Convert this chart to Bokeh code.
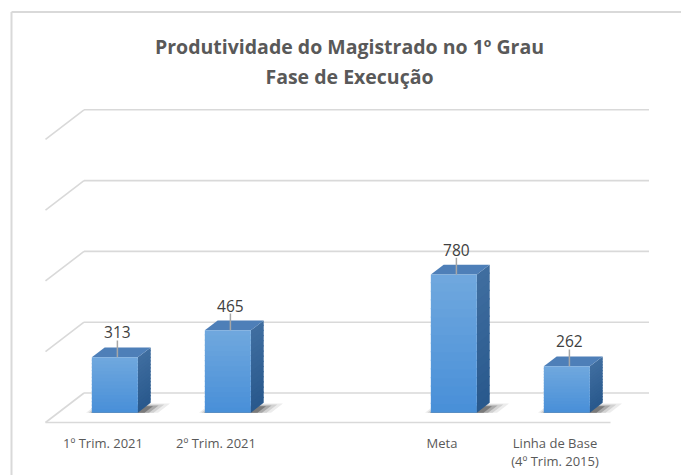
from bokeh.plotting import figure
from bokeh.models import Range1d, Label
from bokeh.core.properties import value
from bokeh.embed import file_html
from bokeh.resources import INLINE

# ---------------- data ----------------
categories = ["1º Trim. 2021", "2º Trim. 2021", "", "Meta", "Linha de Base\n(4º Trim. 2015)"]
values = [313, 465, None, 780, 262]
grid_values = [0, 400, 800, 1200, 1600]
title_lines = ["Produtividade do Magistrado no 1º Grau", "Fase de Execução"]

# ---------------- geometry (pixel <-> data) ----------------
W, H = 681, 475
OFF = 0           # page offset of the canvas
K = 5.65          # value units per pixel
CAT = 113.0       # pixels per category
X0 = 101.5        # page x of category 0 at front of floor
Y0 = 422.0        # page y of value 0 at front of floor
DX = 38.5 / CAT   # full depth offset (x, in category units)
DY = 29.5 * K     # full depth offset (y, in value units)
BW = 46.0 / CAT   # bar width
D0, D1 = 1 / 3, 2 / 3  # bar depth slice


def px_x(page_x):
    return (page_x - X0) / CAT


def px_y(page_y):
    return (Y0 - page_y) * K


def P(x, v, d):
    return x + d * DX, v + d * DY


p = figure(width=W, height=H, output_backend="svg", toolbar_location=None,
           x_range=Range1d(px_x(OFF), px_x(OFF + W)),
           y_range=Range1d(px_y(OFF + H), px_y(OFF)),
           min_border=0, min_border_left=0, min_border_right=0,
           min_border_top=0, min_border_bottom=0)
p.axis.visible = False
p.grid.visible = False
p.outline_line_color = None
p.background_fill_color = "white"
p.border_fill_color = "white"

GRID_C = "#d9d9d9"
x_lo, x_hi = -0.5, len(categories) - 0.5

# chart border (top and left visible)
p.line([px_x(11), px_x(700)], [px_y(11.5), px_y(11.5)], line_color=GRID_C, line_width=2)
p.line([px_x(11), px_x(11)], [px_y(11.5), px_y(490)], line_color=GRID_C, line_width=2)

# back-wall gridlines and side-wall diagonals
for g in grid_values:
    bx0, by = P(x_lo, g, 1)
    bx1, _ = P(x_hi, g, 1)
    p.line([bx0, bx1], [by, by], line_color=GRID_C, line_width=1.6)
    fx, fy = P(x_lo, g, 0)
    p.line([fx, bx0], [fy, by], line_color=GRID_C, line_width=1.6)
# floor front edge
fx0, fy0 = P(x_lo, 0, 0)
fx1, _ = P(x_hi, 0, 0)
p.line([fx0, fx1], [fy0, fy0], line_color=GRID_C, line_width=1.6)


def lerp(c0, c1, t):
    return "#%02x%02x%02x" % tuple(int(round(a + (b - a) * t)) for a, b in zip(c0, c1))


FRONT_BOT, FRONT_TOP = (72, 143, 216), (112, 168, 222)
SIDE_BOT, SIDE_TOP = (40, 88, 140), (64, 110, 160)
TOP_C = "#4e7fb8"
N = 16

# shadows (soft, around each bar's base)
sh_xs, sh_ys, sh_col = [], [], []
for i, v in enumerate(values):
    if v is None:
        continue
    xl, xr = i - BW / 2, i + BW / 2
    for (ex_l, ex_r, da, db, c) in [(0.05, 0.18, 0.33, 0.64, "#ececec"),
                                    (0.03, 0.14, 0.33, 0.61, "#d2d2d2"),
                                    (0.01, 0.10, 0.33, 0.58, "#a9a9a9"),
                                    (0.00, 0.06, 0.33, 0.55, "#7a7a7a")]:
        pts = [P(xl - ex_l, 0, da), P(xr + ex_r, 0, da), P(xr + ex_r, 0, db), P(xl - ex_l, 0, db)]
        sh_xs.append([q[0] for q in pts])
        sh_ys.append([q[1] for q in pts])
        sh_col.append(c)
p.patches(sh_xs, sh_ys, fill_color=sh_col, line_color=None)

# bars
OV = 1.2 * K  # small overlap between gradient strips to hide seams
for i, v in enumerate(values):
    if v is None:
        continue
    xl, xr = i - BW / 2, i + BW / 2
    s_xs, s_ys, s_col = [], [], []
    f_l, f_r, f_b, f_t, f_col = [], [], [], [], []
    for k in range(N):
        v0, v1 = v * k / N, v * (k + 1) / N
        v1o = min(v, v1 + OV)
        t = (k + 0.5) / N
        pts = [P(xr, v0, D0), P(xr, v0, D1), P(xr, v1o, D1), P(xr, v1o, D0)]
        s_xs.append([q[0] for q in pts])
        s_ys.append([q[1] for q in pts])
        s_col.append(lerp(SIDE_BOT, SIDE_TOP, t))
        a = P(xl, v0, D0)
        b = P(xr, v1o, D0)
        f_l.append(a[0]); f_r.append(b[0]); f_b.append(a[1]); f_t.append(b[1])
        f_col.append(lerp(FRONT_BOT, FRONT_TOP, t))
    p.patches(s_xs, s_ys, fill_color=s_col, line_color=None)
    top = [P(xl, v, D0), P(xr, v, D0), P(xr, v, D1), P(xl, v, D1)]
    p.patch([q[0] for q in top], [q[1] for q in top], fill_color=TOP_C, line_color=None)
    p.quad(left=f_l, right=f_r, bottom=f_b, top=f_t, fill_color=f_col, line_color=None)

# data labels with leader lines
lab_x, lab_y, lab_t = [], [], []
for i, v in enumerate(values):
    if v is None:
        continue
    lx, _ = P(i, v, 0.40)
    _, y_front = P(i, v, D0)
    _, y_back = P(i, v, D1)
    ly = y_back + 15 * K
    p.line([lx, lx], [y_front, ly - 8 * K], line_color="#a6a6a6", line_width=1.5)
    lab_x.append(lx)
    lab_y.append(ly)
    lab_t.append(str(v))
p.text(lab_x, lab_y, text=lab_t, text_font=value("Open Sans"), text_font_size="15.5px",
       text_color="#404040", text_align="center", text_baseline="middle")

# category labels
cx, cy, ct = [], [], []
for i, c in enumerate(categories):
    if not c:
        continue
    cx.append(i + 1.0 / CAT)
    cy.append(px_y(433))
    ct.append(c)
p.text(cx, cy, text=ct, text_font=value("Open Sans"), text_font_size="13px",
       text_color="#595959", text_align="center", text_baseline="top", text_line_height=1.0)

# title
for j, (t, base) in enumerate(zip(title_lines, [46, 76])):
    p.add_layout(Label(x=349 - OFF, y=H - (base - OFF), x_units="screen", y_units="screen",
                       text=t, text_font="Open Sans", text_font_style="bold", text_font_size="19.5px",
                       text_color="#595959", text_align="center", text_baseline="alphabetic"))

open("out.html", "w").write(file_html(p, INLINE))
